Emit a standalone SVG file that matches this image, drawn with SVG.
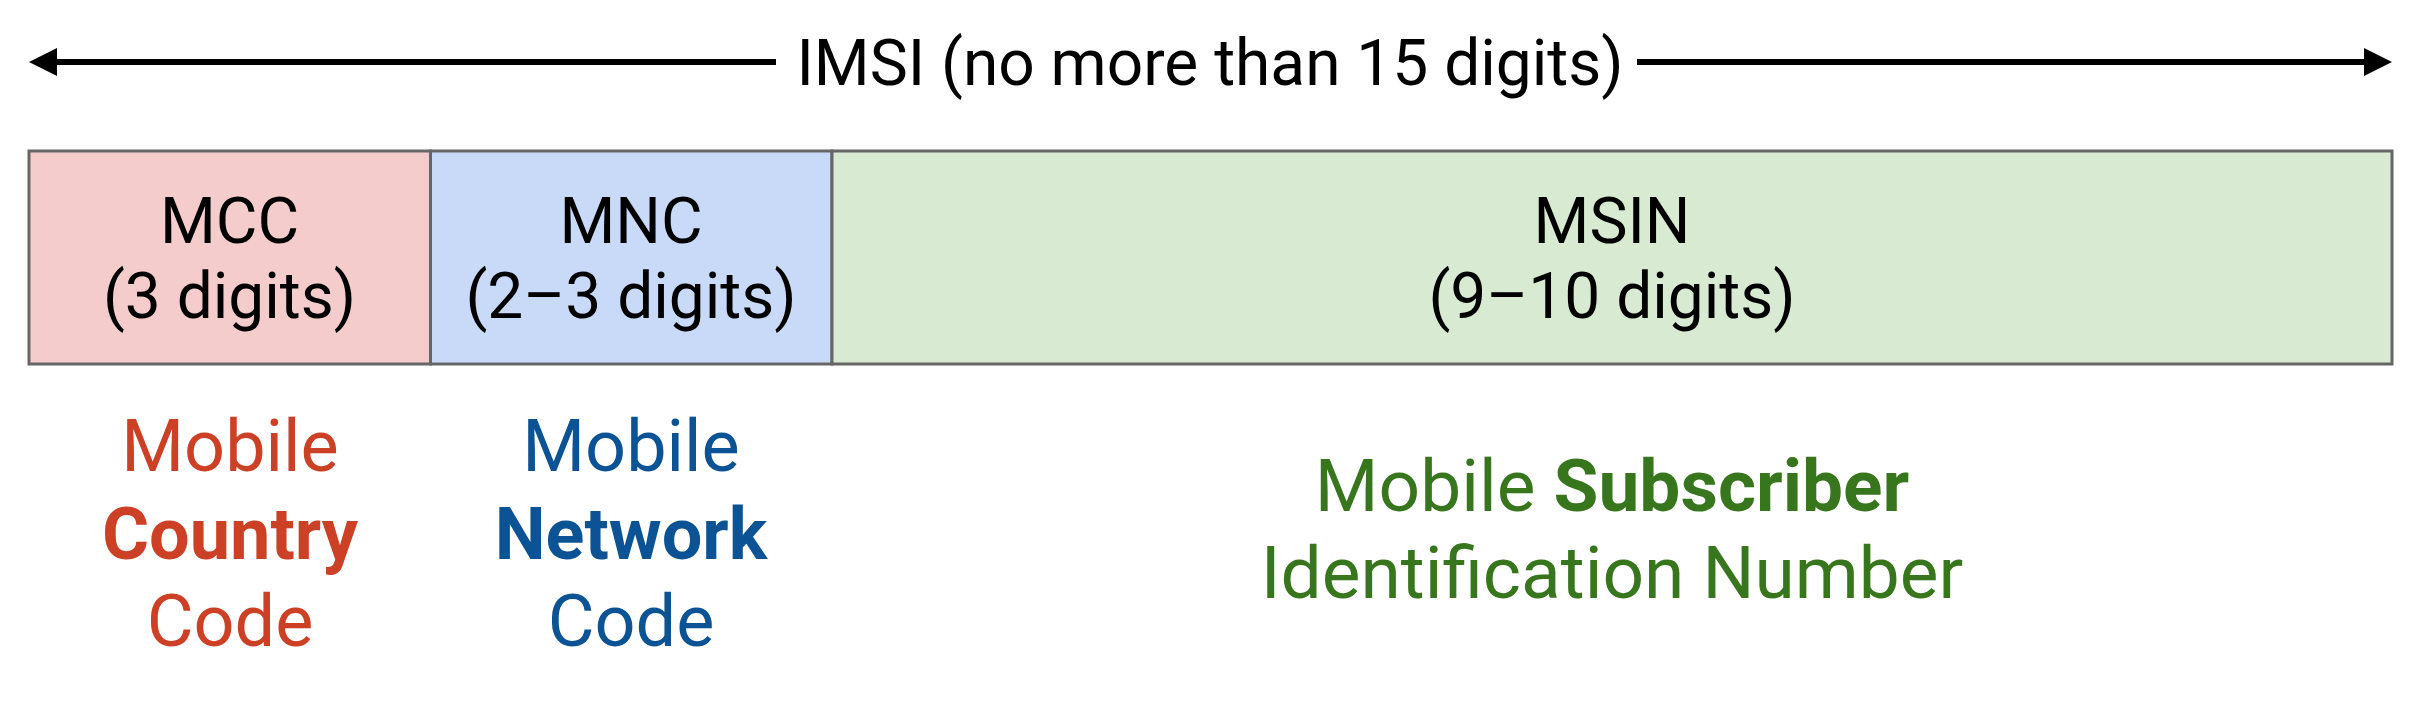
<svg xmlns="http://www.w3.org/2000/svg" width="2420" height="710" viewBox="0 0 2420 710">
  <style>
    text { font-family: Roboto, "Liberation Sans", sans-serif; text-anchor: middle; }
    .title { font-size: 64px; fill: #000; }
    .box { stroke: #666666; stroke-width: 3; }
    .bt { font-size: 64px; fill: #000; }
    .lbl { font-size: 72px; }
    .lbl2 { font-size: 73px; }
    .b { font-weight: bold; }
    .arrow { stroke: #000; stroke-width: 6; fill: none; }
  </style>
  <defs>
    <marker id="ah" markerUnits="userSpaceOnUse" markerWidth="28" markerHeight="28" viewBox="0 0 28 28" refX="6" refY="14" orient="auto">
      <path d="M0,0 L28,14 L0,28 z" fill="#000"/>
    </marker>
  </defs>
  <rect width="2420" height="710" fill="#ffffff"/>

  <g id="connectors">
    <line class="arrow" x1="776" y1="62" x2="51" y2="62" marker-end="url(#ah)"/>
    <line class="arrow" x1="1637" y1="62" x2="2370" y2="62" marker-end="url(#ah)"/>
  </g>

  <g id="title">
    <text class="title" x="1210" y="85">IMSI (no more than 15 digits)</text>
  </g>

  <g id="mcc">
    <rect class="box" x="29" y="151" width="401.5" height="213" fill="#f4cccc"/>
    <text class="bt" x="229.5" y="243">MCC</text>
    <text class="bt" x="229.5" y="318">(3 digits)</text>
  </g>
  <g id="mnc">
    <rect class="box" x="430.5" y="151" width="401.5" height="213" fill="#c9daf8"/>
    <text class="bt" x="631" y="243">MNC</text>
    <text class="bt" x="631" y="318">(2–3 digits)</text>
  </g>
  <g id="msin">
    <rect class="box" x="832" y="151" width="1560" height="213" fill="#d9ead3"/>
    <text class="bt" x="1612" y="243">MSIN</text>
    <text class="bt" x="1612" y="318">(9–10 digits)</text>
  </g>

  <g id="mcc-label" fill="#cc4125">
    <text class="lbl" x="230" y="471">Mobile</text>
    <text class="lbl b" x="230" y="559">Country</text>
    <text class="lbl" x="230" y="646">Code</text>
  </g>
  <g id="mnc-label" fill="#0b5394">
    <text class="lbl" x="631" y="471">Mobile</text>
    <text class="lbl b" x="631" y="559">Network</text>
    <text class="lbl" x="631" y="646">Code</text>
  </g>
  <g id="msin-label" fill="#38761d">
    <text class="lbl2" x="1612" y="511">Mobile <tspan class="b">Subscriber</tspan></text>
    <text class="lbl2" x="1612" y="598">Identification Number</text>
  </g>
</svg>
